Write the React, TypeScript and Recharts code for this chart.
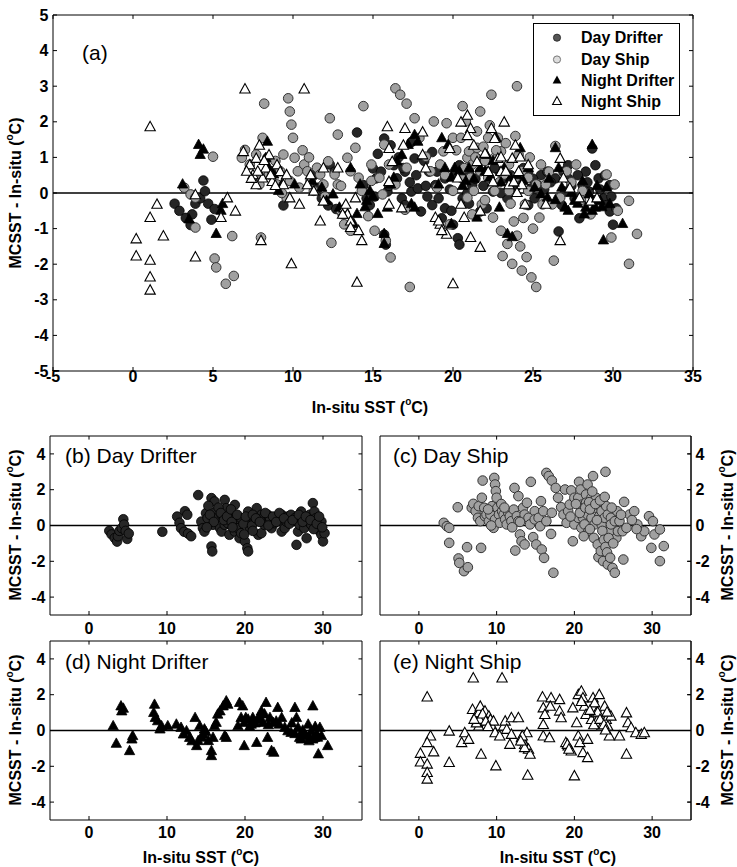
import React from 'react';
import { ScatterChart, Scatter, XAxis, YAxis, ReferenceLine } from 'recharts';

const FONT = '"Liberation Sans", Arial, Helvetica, sans-serif';

const seriesNames = ['Day Drifter', 'Day Ship', 'Night Drifter', 'Night Ship'];
const panelTitles = ['(a)', '(b) Day Drifter', '(c) Day Ship', '(d) Night Drifter', '(e) Night Ship'];
const xTitle = 'In-situ SST (';
const yTitle = 'MCSST - In-situ (';
const xTicksMain = [-5, 0, 5, 10, 15, 20, 25, 30, 35];
const yTicksMain = [-5, -4, -3, -2, -1, 0, 1, 2, 3, 4, 5];
const xTicksSub = [0, 10, 20, 30];
const yTicksSub = [-4, -2, 0, 2, 4];
const xDomain = [-5, 35];
const yDomain = [-5, 5];

const dayDrifter: [number, number][] = [
  [2.6, -0.3], [2.9, -0.5], [3.3, -0.7], [3.6, -0.9], [3.7, -0.6], [3.9, -0.3], [4.2, -0.15], [4.4, 0.35], [4.5, 0.05], [4.7, -0.3], [4.9, -0.75], [5.1, -0.45],
  [9.4, -0.35],
  [11.3, 0.5], [11.6, 0.15], [11.8, -0.15], [12.2, -0.35], [12.3, 0.8], [12.6, 0.6], [12.7, -0.45], [13.1, -0.6],
  [14.0, 1.7], [14.4, 0.22], [14.6, -0.15], [14.8, -0.34], [15.0, 0.69], [15.2, 0.41], [15.7, 1.53], [15.9, 0.04], [15.7, -1.17], [15.8, -1.45],
  [16.1, 1.34], [16.3, 0.78], [16.5, 0.41], [16.8, -0.15], [17.0, -0.34], [17.0, 0.6], [17.4, 1.43], [17.4, 0.04], [17.6, 0.97], [17.8, 0.13],
  [18.0, -0.52], [18.5, 0.6], [18.7, 1.15], [18.7, -0.34], [18.9, 0.22], [19.1, -0.15], [19.3, -0.71], [19.5, -0.43], [19.5, 0.41], [20.0, -0.89],
  [20.3, -1.27], [20.4, -1.45], [20.4, 0.78], [20.6, -0.15], [20.8, 0.41], [21.2, 0.22], [21.5, 0.97], [21.7, -0.52], [22.1, 0.6], [22.1, -0.43],
  [22.3, 0.41], [22.5, 0.04], [22.9, 0.6], [23.2, 0.41], [23.4, -0.15], [23.8, 0.13], [24.2, 0.41], [24.7, 0.6], [24.7, -0.34], [24.9, 0.13],
  [25.1, -0.15], [25.3, 0.22], [25.5, 0.5], [25.9, 0.6], [26.4, 0.41], [26.6, -1.08], [26.8, -0.34], [27.0, 0.04], [27.2, 0.41], [27.2, 0.78],
  [27.6, -0.15], [27.9, -0.71], [28.1, 0.22], [28.3, 0.6], [28.5, 0.04], [28.7, 1.25], [28.9, 0.78], [29.1, 0.41], [29.4, -0.15], [29.6, -0.34],
  [29.8, -0.52], [29.8, 0.22], [30.0, -0.89], [30.2, -0.43],
  [15.3, 1.1], [15.5, 0.6], [16.0, 0.2], [16.6, 1.0], [16.9, 0.7], [17.3, 0.3], [17.7, 0.5], [18.2, 0.9], [18.3, 0.2], [19.0, 0.6],
  [19.8, 0.1], [20.1, 0.5], [20.9, 0.0], [21.0, 0.6], [21.4, 0.4], [21.9, 0.2], [22.6, 0.7], [23.0, 0.0], [23.6, 0.5], [24.0, 0.2],
  [24.4, 0.7], [25.0, 0.4], [25.7, 0.1], [26.1, 0.3], [26.9, 0.6], [27.4, 0.2], [27.8, 0.5], [28.4, 0.3], [28.8, -0.2], [29.2, 0.1],
  [29.5, 0.5], [29.9, -0.1], [15.1, -0.1], [19.9, -0.5], [21.0, -0.3], [18.4, -0.1],
];

const dayShip: [number, number][] = [
  [3.2, 0.15], [3.6, -0.04], [3.9, -0.13], [3.9, -0.97], [5.0, 1.02], [5.1, -1.84], [5.2, -2.09], [5.8, -2.55], [6.2, -1.21], [6.3, -2.33],
  [6.8, 0.99], [7.0, 1.21], [7.3, 0.8], [7.6, 0.43], [7.7, 1.08], [7.9, 0.24], [8.0, -1.25], [8.1, 1.55], [8.2, 2.51], [8.4, 0.99],
  [8.5, 0.52], [8.7, 0.61], [9.0, 0.24], [9.2, 0.61], [9.4, 1.08], [9.6, -0.13], [9.7, 2.66], [9.8, 2.29], [9.8, 0.34], [9.9, 1.92],
  [10.0, 1.55], [10.1, 0.99], [10.3, 0.61], [10.4, 0.15], [10.7, 0.8], [10.9, 0.61], [11.1, 0.34], [11.3, 0.06], [11.5, 0.71], [11.7, 0.52],
  [11.9, 0.24], [12.2, 0.89], [12.3, 2.1], [12.4, -1.4], [12.6, 0.52], [12.8, 1.64], [12.8, 0.24], [13.0, -0.5], [13.2, -0.88], [13.4, 0.99],
  [13.6, -1.06], [13.6, 0.61], [13.9, 1.27], [14.1, 0.43], [14.3, 0.06], [14.4, 2.44], [14.7, -0.65], [14.9, 0.8], [14.9, 0.34], [15.1, -1.06],
  [15.4, 0.43], [15.6, -0.04], [15.7, 1.36], [15.8, -1.34], [16.0, 0.8], [16.1, -1.81], [16.4, 0.24], [16.4, 2.94], [16.7, 2.76], [17.0, -0.47],
  [17.1, 2.51], [17.1, 0.71], [17.3, -2.64], [17.6, 2.1], [17.9, 1.55], [18.3, 1.02], [18.6, 0.61], [18.8, 2.01], [19.0, 0.15], [19.2, 0.8],
  [19.4, 1.17], [19.6, 1.96], [19.8, -0.88], [20.0, 1.55], [20.0, 0.06], [20.5, 0.43], [20.5, 1.55], [20.6, 2.44], [20.8, 2.01], [20.9, 0.99],
  [20.9, -0.13], [21.0, 1.17], [21.1, 0.43], [21.2, 0.8], [21.3, 0.06], [21.5, 1.73], [21.5, 1.27], [21.7, 2.29], [21.7, 0.61], [21.8, -0.32],
  [22.2, 0.43], [22.2, 1.55], [22.4, 2.76], [22.5, -0.69], [22.6, 0.99], [22.6, 0.06], [22.8, 1.55], [23.0, -1.06], [23.0, 1.17], [23.1, -1.77],
  [23.2, 0.52], [23.4, -1.43], [23.5, 0.06], [23.5, 0.8], [23.7, -1.99], [23.9, 0.43], [24.0, 3.0], [24.1, 1.08], [24.3, -2.18], [24.3, 0.61],
  [24.5, -0.32], [24.7, 0.43], [24.7, 0.06], [24.9, -2.37], [25.2, -2.64], [25.2, 0.24], [25.4, -0.69], [25.5, 0.8], [25.6, -0.32], [25.8, 0.24],
  [26.2, -0.32], [26.3, -1.9], [26.4, 1.32], [26.7, -0.13], [27.1, 0.61], [27.7, 0.8], [28.1, 0.06], [28.6, -0.6], [29.0, -0.32], [29.6, 0.52],
  [29.9, -1.25], [30.1, 0.24], [30.3, -0.5], [31.0, -1.99], [31.0, -0.22], [31.5, -1.15],
  [20.2, 1.2], [20.7, 0.7], [21.4, 1.0], [21.9, 1.3], [22.0, 0.9], [22.3, 1.9], [22.7, 1.2], [22.9, 0.3], [23.3, 1.4], [23.6, -0.3],
  [23.8, -0.8], [24.0, -1.2], [24.2, -1.5], [24.6, -1.8], [24.4, -0.7], [23.9, 1.6], [21.2, -0.6], [22.0, -0.2], [24.8, 1.0], [25.0, -1.0],
  [19.5, 0.5], [10.6, 1.2], [9.3, 0.0], [8.9, 0.9], [11.0, 1.0], [13.0, 0.2], [12.0, -0.1], [27.4, 0.3], [28.0, -0.2], [26.0, 0.6],
];

const nightDrifter: [number, number][] = [
  [3.1, 0.24], [3.5, -0.74], [4.1, 1.35], [4.2, 1.07], [4.4, 1.22], [5.2, -1.15], [5.6, -0.31], [5.5, -0.5],
  [8.4, 1.44], [8.3, 0.98], [8.5, 0.7], [8.8, 0.52], [9.1, 0.06], [9.3, 0.24], [10.1, 0.24], [11.2, 0.33], [11.8, 0.15], [12.1, -0.22],
  [12.5, -0.04], [12.9, -0.41], [13.6, 0.7], [13.8, -0.87], [14.0, -0.59], [14.2, 0.24], [14.6, -0.22], [14.8, 0.06], [15.3, -0.59],
  [15.7, -1.15], [15.7, -1.43], [15.9, -0.41], [16.1, 0.24], [16.3, 0.43], [16.5, 0.89], [16.8, 1.07], [17.2, 1.35], [17.6, 1.63], [17.8, 1.44],
  [17.4, -0.31], [17.6, -0.41], [19.1, 0.24], [19.3, 1.54], [19.7, 1.35], [19.5, 0.7], [19.9, 0.43], [19.9, -0.87], [20.4, 0.61], [20.8, 0.33],
  [21.0, 0.7], [21.5, -0.69], [21.7, 0.7], [22.1, 1.07], [22.3, 0.43], [22.7, 1.54], [22.9, -0.41], [23.4, -1.15], [23.7, -1.24], [23.2, 0.7],
  [23.6, 0.43], [24.2, 1.26], [24.4, 0.33], [24.7, 0.7], [25.1, 0.15], [25.5, -0.04], [25.9, -0.13], [26.4, 1.26], [26.6, 0.7], [26.8, 0.15],
  [27.0, -0.41], [27.2, -0.5], [27.6, -0.22], [28.1, 0.33], [28.3, -0.41], [28.5, -0.04], [28.7, 1.35], [28.9, -0.41], [29.2, -0.22],
  [29.4, -1.33], [29.6, 0.15], [29.8, -0.31], [30.6, -0.87],
  [20.1, 0.7], [20.6, 0.2], [21.3, 0.4], [22.0, 0.6], [22.5, 0.9], [23.0, 0.3], [24.0, 0.5], [26.0, 0.4], [26.4, -0.2], [27.4, 0.0],
  [27.8, -0.3], [28.2, -0.6], [28.7, -0.5], [29.0, 0.2], [29.3, -0.4], [14.5, -0.4], [15.0, -0.1], [13.2, -0.6],
];

const nightShip: [number, number][] = [
  [1.07, 1.85], [1.5, -0.33], [1.07, -0.7], [0.2, -1.3], [0.2, -1.78], [1.07, -1.9], [1.07, -2.37], [1.07, -2.74], [1.9, -1.22],
  [3.9, -0.06], [3.9, -1.81], [5.5, -0.7], [5.9, -0.15], [6.4, -0.52], [7.0, 2.91], [6.9, 1.15], [7.3, 0.78], [7.5, 0.5], [7.7, 0.96],
  [7.9, 1.33], [8.1, 0.41], [8.3, 0.69], [8.5, 1.06], [8.7, 0.31], [9.0, 0.78], [9.2, 0.59], [9.4, 0.22], [9.6, 0.5], [7.7, 0.22],
  [8.0, -1.35], [9.8, -0.15], [9.9, -2.0], [10.4, -0.33], [10.7, 2.91], [10.9, 0.22], [11.1, 0.5], [11.3, 0.04], [11.9, -0.24], [11.9, 0.69],
  [11.7, -0.8], [12.8, 0.69], [13.2, -0.43], [13.4, -0.61], [13.6, -0.8], [13.9, -0.15], [14.1, -1.07], [14.3, -1.35], [14.0, -2.52],
  [13.3, -0.33], [13.6, -0.98], [13.1, -0.61],
  [15.9, 1.85], [16.0, 1.24], [16.2, 0.87], [16.0, 0.31], [16.0, -0.33], [16.8, -0.43], [17.0, 1.8], [16.9, 1.33], [18.1, 1.7], [18.1, 1.06],
  [18.3, 0.69], [18.9, -0.7], [19.2, -0.89], [19.6, -1.17], [19.8, 1.24], [20.0, -2.56], [20.3, 0.41], [20.5, -0.33], [20.7, -0.7],
  [19.1, -0.8], [19.3, -1.07],
  [20.5, 1.98], [20.9, 2.17], [21.1, 1.8], [21.1, -1.26], [21.3, 1.33], [21.5, 0.87], [21.7, -0.52], [21.7, -1.54], [22.2, 0.59], [22.4, 1.8],
  [22.6, 1.52], [22.8, 0.96], [23.0, 0.59], [23.2, 1.98], [23.5, 0.22], [23.7, 0.96], [23.9, 1.33], [24.1, 0.59], [24.3, 0.22], [24.5, -0.33],
  [24.7, 0.78], [25.8, -0.33], [26.7, 0.96], [26.7, -1.35], [26.9, 0.41], [27.3, 0.13], [27.9, -0.15], [28.6, -0.24], [29.0, -0.15],
  [7.4, 0.4], [7.8, 0.6], [8.2, 0.9], [8.6, 0.5], [8.9, 0.2], [7.1, 0.6], [22.5, 0.3], [23.0, 1.0], [23.3, 0.6], [23.8, 0.3],
  [24.2, 1.0], [22.0, 1.1], [20.9, 1.6], [24.0, 0.0],
];

const toPts = (arr: [number, number][]) => arr.map(([x, y]) => ({ x, y }));

const ddShape = (p: any) => (
  <circle cx={p.cx} cy={p.cy} r={4.8} fill="#262626" stroke="#000" strokeWidth={0.8} />
);
const dsShape = (p: any) => (
  <circle cx={p.cx} cy={p.cy} r={4.8} fill="#a0a0a0" stroke="#333" strokeWidth={1} />
);
const tri = (cx: number, cy: number, s: number) =>
  `${cx},${cy - s * 0.62} ${cx - s * 0.55},${cy + s * 0.38} ${cx + s * 0.55},${cy + s * 0.38}`;
const ndShape = (p: any) => (
  <polygon points={tri(p.cx, p.cy, 9.4)} fill="#000" stroke="#000" strokeWidth={0.8} />
);
const nsShape = (p: any) => (
  <polygon points={tri(p.cx, p.cy, 9.4)} fill="#fff" stroke="#000" strokeWidth={1.1} />
);

const series = [
  { name: seriesNames[0], data: toPts(dayDrifter), shape: ddShape },
  { name: seriesNames[1], data: toPts(dayShip), shape: dsShape },
  { name: seriesNames[2], data: toPts(nightDrifter), shape: ndShape },
  { name: seriesNames[3], data: toPts(nightShip), shape: nsShape },
];

const tickStyle = { fill: '#000', fontSize: 16, fontWeight: 700, fontFamily: FONT };
const lineStyle = { stroke: '#000', strokeWidth: 1 };

type PanelProps = {
  left: number;
  top: number;
  width: number;
  height: number;
  margin: { top: number; right: number; bottom: number; left: number };
  leftW: number;
  rightW: number;
  xH: number;
  xTicks: number[];
  yTicks: number[];
  leftLabels: boolean;
  rightLabels: boolean;
  xMargin: number;
  tdx: number;
  tdy: number;
  items: typeof series;
};

function Panel(p: PanelProps) {
  const [x0, x1] = xDomain;
  const [y0, y1] = yDomain;
  return (
    <div style={{ position: 'absolute', left: p.left, top: p.top }}>
      <ScatterChart width={p.width} height={p.height} margin={p.margin}>
        <XAxis type="number" dataKey="x" domain={xDomain} ticks={p.xTicks} interval={0}
          orientation="bottom" height={p.xH} tickSize={-4} tickMargin={p.xMargin}
          axisLine={lineStyle} tickLine={lineStyle} tick={tickStyle} allowDataOverflow />
        <YAxis type="number" dataKey="y" domain={yDomain} ticks={p.yTicks} interval={0}
          orientation="left" width={p.leftW} tickSize={-4} tickMargin={8.5}
          axisLine={lineStyle} tickLine={lineStyle} tick={p.leftLabels ? tickStyle : false} allowDataOverflow />
        {p.rightLabels && (
          <YAxis yAxisId="r" type="number" dataKey="y" domain={yDomain} ticks={p.yTicks} interval={0}
            orientation="right" width={p.rightW} tickSize={-4} tickMargin={8.5}
            axisLine={lineStyle} tickLine={lineStyle} tick={tickStyle} allowDataOverflow />
        )}
        <ReferenceLine y={y1} stroke="#000" strokeWidth={1} />
        <ReferenceLine x={x1} stroke="#000" strokeWidth={1} />
        {p.xTicks.map((t) => (
          <ReferenceLine key={'tt' + t} segment={[{ x: t, y: y1 }, { x: t, y: y1 - p.tdy }]} stroke="#000" strokeWidth={1} />
        ))}
        {p.yTicks.map((t) => (
          <ReferenceLine key={'rt' + t} segment={[{ x: x1, y: t }, { x: x1 - p.tdx, y: t }]} stroke="#000" strokeWidth={1} />
        ))}
        <ReferenceLine y={0} stroke="#000" strokeWidth={1.4} />
        {p.items.map((s) => (
          <Scatter key={s.name} name={s.name} data={s.data}
            shape={s.shape} isAnimationActive={false} />
        ))}
        {p.rightLabels && (
          <Scatter key="frame" name="frame" yAxisId="r" data={p.items[0].data}
            shape={() => <g />} isAnimationActive={false} legendType="none" />
        )}
      </ScatterChart>
    </div>
  );
}

function Sup() {
  return (
    <tspan baselineShift="super" fontSize="10">o</tspan>
  );
}

function XTitle({ x, y }: { x: number; y: number }) {
  return (
    <text x={x} y={y} textAnchor="middle" dominantBaseline="central" fontFamily={FONT}
      fontSize={16} fontWeight={700} fill="#000">
      {xTitle}<Sup />C)
    </text>
  );
}

function YTitle({ x, y }: { x: number; y: number }) {
  return (
    <text x={x} y={y} textAnchor="middle" dominantBaseline="central" fontFamily={FONT}
      fontSize={16} fontWeight={700} fill="#000" transform={`rotate(-90, ${x}, ${y})`}>
      {yTitle}<Sup />C)
    </text>
  );
}

function PanelTitle({ x, y, t }: { x: number; y: number; t: string }) {
  return (
    <text x={x} y={y} dominantBaseline="central" fontFamily={FONT} fontSize={21} fill="#000">
      {t}
    </text>
  );
}

const legendShapes = [
  (x: number, y: number) => <circle cx={x} cy={y} r={3.6} fill="#555" stroke="#222" strokeWidth={0.8} />,
  (x: number, y: number) => <circle cx={x} cy={y} r={3.6} fill="#ddd" stroke="#777" strokeWidth={1} />,
  (x: number, y: number) => <polygon points={tri(x, y, 8)} fill="#000" />,
  (x: number, y: number) => <polygon points={tri(x, y, 8)} fill="#fff" stroke="#000" strokeWidth={1.1} />,
];

export default function App() {
  const legendY = [37.7, 59.5, 80.5, 101.5];
  return (
    <div style={{ position: 'absolute', left: 0, top: 0, width: 737, height: 867, background: '#fff', overflow: 'hidden' }}>
      <Panel left={0} top={0} width={737} height={440}
        margin={{ top: 15, right: 44, bottom: 29, left: 0 }} leftW={53} rightW={0} xH={40}
        xTicks={xTicksMain} yTicks={yTicksMain} leftLabels rightLabels={false} xMargin={4}
        tdx={0.25} tdy={0.11} items={series} />
      <Panel left={0} top={420} width={370} height={230}
        margin={{ top: 16, right: 8, bottom: 5, left: 0 }} leftW={50} rightW={0} xH={30}
        xTicks={xTicksSub} yTicks={yTicksSub} leftLabels rightLabels={false} xMargin={12}
        tdx={0.45} tdy={0.2} items={[series[0]]} />
      <Panel left={370} top={420} width={367} height={230}
        margin={{ top: 16, right: 16, bottom: 5, left: 0 }} leftW={10} rightW={30} xH={30}
        xTicks={xTicksSub} yTicks={yTicksSub} leftLabels={false} rightLabels xMargin={12}
        tdx={0.45} tdy={0.2} items={[series[1]]} />
      <Panel left={0} top={625} width={370} height={230}
        margin={{ top: 16, right: 8, bottom: 5, left: 0 }} leftW={50} rightW={0} xH={30}
        xTicks={xTicksSub} yTicks={yTicksSub} leftLabels rightLabels={false} xMargin={11}
        tdx={0.45} tdy={0.2} items={[series[2]]} />
      <Panel left={370} top={625} width={367} height={230}
        margin={{ top: 16, right: 16, bottom: 5, left: 0 }} leftW={10} rightW={30} xH={30}
        xTicks={xTicksSub} yTicks={yTicksSub} leftLabels={false} rightLabels xMargin={11}
        tdx={0.45} tdy={0.2} items={[series[3]]} />
      <svg width={737} height={867} style={{ position: 'absolute', left: 0, top: 0, pointerEvents: 'none' }}>
        <PanelTitle x={82} y={52} t={panelTitles[0]} />
        <PanelTitle x={65} y={455} t={panelTitles[1]} />
        <PanelTitle x={393} y={455} t={panelTitles[2]} />
        <PanelTitle x={65} y={661} t={panelTitles[3]} />
        <PanelTitle x={393} y={661} t={panelTitles[4]} />
        <XTitle x={370} y={407} />
        <XTitle x={201} y={857} />
        <XTitle x={558} y={857} />
        <YTitle x={15} y={193} />
        <YTitle x={15} y={525} />
        <YTitle x={15} y={730} />
        <YTitle x={727} y={525} />
        <YTitle x={727} y={730} />
        <rect x={533.5} y={23.5} width={146} height={92} fill="#fff" stroke="#000" strokeWidth={1} />
        {seriesNames.map((n, i) => (
          <g key={n}>
            {legendShapes[i](557, legendY[i])}
            <text x={581} y={legendY[i]} dominantBaseline="central" fontFamily={FONT} fontSize={16}
              fontWeight={700} fill="#000">{n}</text>
          </g>
        ))}
      </svg>
    </div>
  );
}
